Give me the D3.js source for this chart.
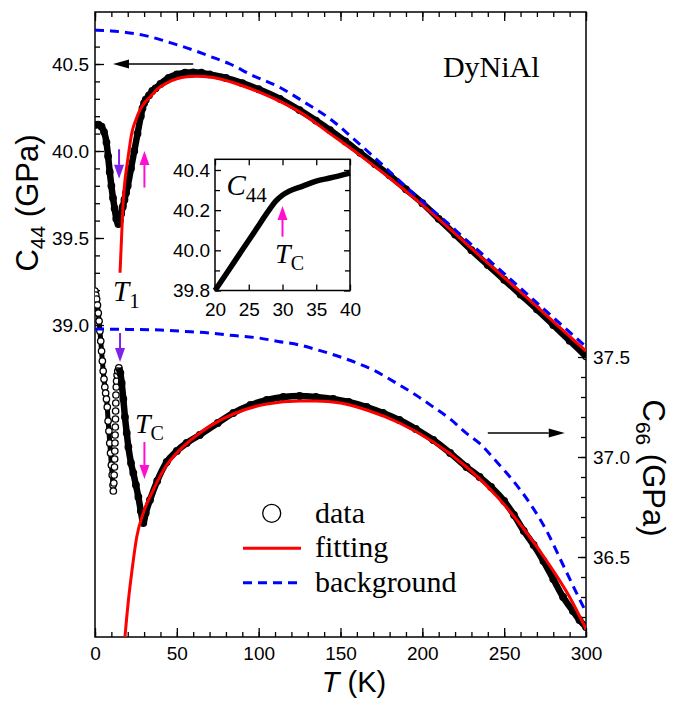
<!DOCTYPE html>
<html>
<head>
<meta charset="utf-8">
<script src="https://cdn.jsdelivr.net/npm/d3@7"></script>
<style>
body { margin: 0; background: #fff; }
svg { display: block; }
</style>
</head>
<body>
<div id="chart"></div>
<script>
/*************** data (T in K, elastic constant in GPa) ***************/
// C44 measured (left axis)
var c44Data = [[0,40.15],[2,40.152],[4,40.14],[5.5,40.11],[7,40.05],[8,39.97],[9,39.88],[10,39.80],[11,39.73],[12,39.67],[13,39.61],[14.3,39.58],[15.2,39.60],[16,39.64],[17,39.68],[18,39.72],[19,39.76],[20,39.80],[22,39.90],[24,40.00],[26,40.10],[28,40.20],[29,40.245],[30,40.275],[31,40.295],[33,40.32],[35,40.345],[37,40.36],[40,40.385],[45,40.42],[50,40.44],[55,40.45],[60,40.452],[65,40.45],[70,40.44],[80,40.42],[90,40.39],[100,40.355],[113,40.30],[125,40.235],[135,40.175],[143.6,40.12],[153,40.055],[162,39.99],[171,39.925],[180,39.86],[190,39.78],[200,39.70],[210,39.61],[220,39.52],[230,39.43],[240,39.345],[250,39.26],[260,39.175],[270,39.09],[280,39.0],[290,38.91],[300,38.82]];
var c44Fit = [[15.3,39.30],[16.3,39.52],[17.3,39.72],[18.3,39.83],[19.4,39.91],[20.9,40.01],[22.4,40.10],[25,40.18],[27.5,40.236],[30.5,40.28],[33.6,40.31],[38,40.355],[43.8,40.39],[50,40.415],[56,40.427],[62,40.43],[70,40.425],[80,40.405],[90,40.375],[100,40.34],[113,40.285],[125,40.225],[143.6,40.10],[162,39.975],[180,39.845],[200,39.69],[220,39.525],[240,39.355],[260,39.19],[280,39.02],[300,38.85]];
var c44Bg = [[0,40.695],[10,40.69],[20,40.68],[33.6,40.657],[45,40.625],[52,40.605],[60,40.58],[70,40.545],[82.5,40.50],[95,40.44],[113,40.365],[128,40.28],[143.6,40.185],[158,40.07],[174,39.935],[187,39.82],[200,39.71],[212.5,39.61],[225,39.505],[237.5,39.40],[250,39.295],[262.5,39.19],[275,39.085],[287.5,38.98],[300,38.875]];

// C66 measured (right axis): cooling branch, jump at T1, main branch
var c66Low = [[0,37.83],[0.5,37.81],[1,37.79],[1.5,37.76],[2,37.72],[2.5,37.68],[3,37.63],[3.5,37.58],[4,37.53],[4.5,37.48],[5,37.43],[5.5,37.39],[6,37.35],[6.5,37.32],[7,37.29],[7.5,37.25],[8,37.18],[8.5,37.13],[9,37.07],[9.5,37.02],[10,36.96],[10.5,36.91],[11,36.86],[11.2,36.83]];
var c66Jump = [[11.5,36.87],[11.7,36.91],[11.9,36.95],[12.0,36.99],[12.1,37.03],[12.2,37.07],[12.3,37.11],[12.4,37.15],[12.5,37.19],[12.6,37.23],[12.7,37.27],[12.8,37.31],[13.0,37.35],[13.2,37.38],[13.5,37.41],[13.9,37.43]];
var c66Data = [[14.6,37.445],[15.5,37.42],[16.3,37.37],[17.3,37.29],[18.3,37.20],[19.4,37.12],[20.4,37.05],[22,36.97],[23.4,36.92],[25,36.86],[26.5,36.80],[28,36.73],[29.5,36.67],[31,36.72],[33.6,36.785],[38,36.88],[43.8,36.975],[50,37.03],[56,37.07],[64,37.11],[75,37.17],[84.5,37.22],[95,37.26],[105,37.285],[115,37.30],[125,37.305],[135,37.30],[145.6,37.29],[155,37.275],[166,37.25],[176,37.22],[186,37.185],[196,37.14],[206.7,37.085],[217,37.02],[227,36.95],[235,36.90],[242,36.85],[250,36.78],[256,36.71],[262,36.63],[268,36.56],[274,36.48],[280,36.39],[286,36.30],[292,36.23],[296,36.185],[300,36.15]];
var c66Fit = [[18.3,36.10],[19.4,36.20],[20.5,36.29],[22.4,36.42],[25.5,36.60],[29.5,36.72],[35.6,36.835],[43.8,36.96],[50,37.02],[64,37.12],[84.5,37.215],[105,37.265],[125,37.28],[135,37.28],[150,37.27],[166,37.235],[186,37.17],[206.7,37.075],[227,36.95],[247,36.79],[262,36.64],[276,36.48],[290,36.30],[300,36.14]];
var c66Bg = [[0,37.64],[20,37.638],[40,37.635],[55,37.628],[70,37.62],[85,37.607],[100,37.595],[112,37.578],[125,37.56],[137,37.533],[150,37.50],[160,37.47],[170,37.435],[186,37.36],[196,37.31],[206.7,37.25],[217,37.19],[227,37.118],[235,37.068],[245,36.98],[255.6,36.88],[266,36.765],[276,36.63],[286,36.46],[296,36.29],[300,36.225]];

// ticks
var xMajor = [0,50,100,150,200,250,300];
var leftMajor = [39.0,39.5,40.0,40.5];
var rightMajor = [36.5,37.0,37.5];
var insetXTicks = [20,25,30,35,40];
var insetYTicks = [39.8,40.0,40.2,40.4];

// annotations: arrows [T, from, to, axis, colour]
var arrows = [
    [14.7, 40.01, 39.84, "L", "#7d22e6"],
    [30.2, 39.79, 40.00, "L", "#ff10d0"],
    [15.3, 37.62, 37.475, "R", "#7d22e6"],
    [30.2, 37.075, 36.89, "R", "#ff10d0"]
];
var sideArrows = [[60, 11, 40.5, "L"], [240, 287, 37.12, "R"]];

var SANS = "'Liberation Sans', Arial, sans-serif";
var SERIF = "'Liberation Serif', 'Times New Roman', serif";

/*************** scales ***************/
var x = d3.scaleLinear().domain([0, 300]).range([95, 586]);
var yL = d3.scaleLinear().domain([39.0, 40.5]).range([325, 64]);
var yR = d3.scaleLinear().domain([36.5, 37.5]).range([557, 357]);
var plotTop = 12, plotBottom = 637;

var xi = d3.scaleLinear().domain([20, 40]).range([215, 350]);
var yi = d3.scaleLinear().domain([39.8, 40.4]).range([290.5, 170]);

var svg = d3.select("#chart").append("svg")
    .attr("width", 692).attr("height", 701);

svg.append("defs").append("clipPath").attr("id", "plotclip")
    .append("rect").attr("x", 95).attr("y", plotTop)
    .attr("width", 491).attr("height", plotBottom - plotTop);

function range(a, b, s) {
    var out = [];
    for (var v = a; v <= b + 1e-9; v += s) out.push(Math.round(v * 100) / 100);
    return out;
}

/*************** axes ***************/
function tickAxis(axis, tr, size, labels) {
    var g = svg.append("g").attr("transform", tr).call(axis.tickSize(size));
    g.select(".domain").remove();
    g.selectAll("line").attr("stroke", "#000").attr("stroke-width", 1.3);
    g.selectAll("text").style("font-family", SANS).style("font-size", "19px").attr("fill", "#000");
    if (!labels) g.selectAll("text").remove();
    return g;
}
// bottom
tickAxis(d3.axisBottom(x).tickValues(xMajor).tickFormat(d3.format("d")).tickPadding(10), "translate(0," + plotBottom + ")", -9, true);
tickAxis(d3.axisBottom(x).tickValues(range(0, 300, 10)), "translate(0," + plotBottom + ")", -5, false);
// top
tickAxis(d3.axisTop(x).tickValues(xMajor), "translate(0," + plotTop + ")", -9, false);
tickAxis(d3.axisTop(x).tickValues(range(0, 300, 10)), "translate(0," + plotTop + ")", -5, false);
// left
tickAxis(d3.axisLeft(yL).tickValues(leftMajor).tickFormat(d3.format(".1f")).tickPadding(6), "translate(95,0)", -9, true);
tickAxis(d3.axisLeft(yL).tickValues(range(39.0, 40.7, 0.1)), "translate(95,0)", -5, false);
// right
tickAxis(d3.axisRight(yR).tickValues(rightMajor).tickFormat(d3.format(".1f")).tickPadding(7), "translate(586,0)", -8, true);
tickAxis(d3.axisRight(yR).tickValues(range(36.2, 37.4, 0.1)), "translate(586,0)", -5, false);

svg.append("rect").attr("x", 95).attr("y", plotTop).attr("width", 491).attr("height", plotBottom - plotTop)
    .attr("fill", "none").attr("stroke", "#000").attr("stroke-width", 1.5);

/*************** curves ***************/
var plot = svg.append("g").attr("clip-path", "url(#plotclip)");

function lineFor(ys) {
    return d3.line().x(function (d) { return x(d[0]); }).y(function (d) { return ys(d[1]); }).curve(d3.curveMonotoneX);
}
function solidData(data, ys) {
    plot.append("path").datum(data).attr("d", lineFor(ys))
        .attr("fill", "none").attr("stroke", "#000").attr("stroke-width", 6.5).attr("stroke-linejoin", "round");
    plot.append("g").selectAll("circle").data(data).enter().append("circle")
        .attr("cx", function (d) { return x(d[0]); }).attr("cy", function (d) { return ys(d[1]); })
        .attr("r", 3.3).attr("fill", "none").attr("stroke", "#000").attr("stroke-width", 1.2);
}
function openData(data, ys) {
    plot.append("g").selectAll("circle").data(data).enter().append("circle")
        .attr("cx", function (d) { return x(d[0]); }).attr("cy", function (d) { return ys(d[1]); })
        .attr("r", 3.2).attr("fill", "#fff").attr("stroke", "#000").attr("stroke-width", 1.3);
}
function fitLine(data, ys) {
    plot.append("path").datum(data).attr("d", lineFor(ys))
        .attr("fill", "none").attr("stroke", "#ff0000").attr("stroke-width", 3);
}
function bgLine(data, ys) {
    plot.append("path").datum(data).attr("d", lineFor(ys))
        .attr("fill", "none").attr("stroke", "#0000ff").attr("stroke-width", 3).attr("stroke-dasharray", "9,6");
}

solidData(c44Data, yL);
plot.append("path").datum(c66Low).attr("d", lineFor(yR))
    .attr("fill", "none").attr("stroke", "#000").attr("stroke-width", 5);
openData(c66Low, yR);
openData(c66Jump, yR);
solidData(c66Data, yR);
fitLine(c44Fit, yL);
fitLine(c66Fit, yR);
bgLine(c44Bg, yL);
bgLine(c66Bg, yR);

/*************** arrows ***************/
function arrow(x1, y1, x2, y2, color, w, len, half) {
    var dx = x2 - x1, dy = y2 - y1, L = Math.sqrt(dx * dx + dy * dy);
    var ux = dx / L, uy = dy / L;
    var bx = x2 - ux * len, by = y2 - uy * len;
    svg.append("line").attr("x1", x1).attr("y1", y1).attr("x2", bx).attr("y2", by)
        .attr("stroke", color).attr("stroke-width", w);
    svg.append("path")
        .attr("d", "M" + x2 + "," + y2 + "L" + (bx - uy * half) + "," + (by + ux * half) + "L" + (bx + uy * half) + "," + (by - ux * half) + "Z")
        .attr("fill", color);
}
arrows.forEach(function (a) {
    var ys = a[3] === "L" ? yL : yR;
    arrow(x(a[0]), ys(a[1]), x(a[0]), ys(a[2]), a[4], 2, 14, 5);
});
sideArrows.forEach(function (a) {
    var ys = a[3] === "L" ? yL : yR;
    arrow(x(a[0]), ys(a[2]), x(a[1]), ys(a[2]), "#000", 1.5, 16, 4.5);
});

/*************** labels ***************/
function subLabel(px, py, main, sub, size, subSize, italic) {
    var t = svg.append("text").attr("x", px).attr("y", py)
        .style("font-family", SERIF).style("font-size", size + "px");
    t.append("tspan").text(main).style("font-style", italic ? "italic" : "normal");
    t.append("tspan").text(sub).style("font-size", subSize + "px").attr("dy", size * 0.25);
    return t;
}
subLabel(x(11), yL(39.138), "T", "1", 29, 21, true);
subLabel(x(24.4), yR(37.12), "T", "C", 28, 20, true);

svg.append("text").attr("x", x(212.6)).attr("y", yL(40.425))
    .style("font-family", SERIF).style("font-size", "30px").text("DyNiAl");

/*************** inset ***************/
var inset = svg.append("g");
inset.append("rect").attr("x", 215).attr("y", 159.3).attr("width", 135).attr("height", 290.5 - 159.3)
    .attr("fill", "#fff").attr("stroke", "#000").attr("stroke-width", 1.5);
function insetAxis(axis, tr, size, labels) {
    var g = inset.append("g").attr("transform", tr).call(axis.tickSize(size));
    g.select(".domain").remove();
    g.selectAll("line").attr("stroke", "#000").attr("stroke-width", 1.3);
    g.selectAll("text").style("font-family", SANS).style("font-size", "19px").attr("fill", "#000");
    if (!labels) g.selectAll("text").remove();
}
insetAxis(d3.axisBottom(xi).tickValues(insetXTicks).tickPadding(12), "translate(0,290.5)", -6, true);
insetAxis(d3.axisTop(xi).tickValues(insetXTicks), "translate(0,159.3)", -6, false);
insetAxis(d3.axisLeft(yi).tickValues(insetYTicks).tickFormat(d3.format(".1f")).tickPadding(5), "translate(215,0)", -6, true);
insetAxis(d3.axisLeft(yi).tickValues([39.9, 40.1, 40.3]), "translate(215,0)", -5, false);
insetAxis(d3.axisRight(yi).tickValues(insetYTicks), "translate(350,0)", -6, false);
insetAxis(d3.axisRight(yi).tickValues([39.9, 40.1, 40.3]), "translate(350,0)", -5, false);

var insetData = c44Data.filter(function (d) { return d[0] >= 20 && d[0] <= 40; });
inset.append("path").datum(insetData)
    .attr("d", d3.line().x(function (d) { return xi(d[0]); }).y(function (d) { return yi(d[1]); }).curve(d3.curveMonotoneX))
    .attr("fill", "none").attr("stroke", "#000").attr("stroke-width", 5.5).attr("stroke-linejoin", "round");
arrow(xi(30), yi(40.068), xi(30), yi(40.221), "#ff10d0", 2, 14, 5);

subLabel(xi(21.7), yi(40.275), "C", "44", 29, 21, true);
subLabel(xi(28.9), yi(39.937), "T", "C", 28, 20, true);

/*************** axis titles ***************/
var xt = svg.append("text").attr("x", 354).attr("y", 692).attr("text-anchor", "middle")
    .style("font-family", SANS).style("font-size", "29px");
xt.append("tspan").text("T").style("font-style", "italic");
xt.append("tspan").text(" (K)");

var lt = svg.append("text").attr("transform", "translate(38,203) rotate(-90)").attr("text-anchor", "middle")
    .style("font-family", SANS).style("font-size", "31px");
lt.append("tspan").text("C");
lt.append("tspan").text("44").style("font-size", "21px").attr("dy", 7);
lt.append("tspan").text(" (GPa)").attr("dy", -7);

var rt = svg.append("text").attr("transform", "translate(643,468) rotate(90)").attr("text-anchor", "middle")
    .style("font-family", SANS).style("font-size", "31px");
rt.append("tspan").text("C");
rt.append("tspan").text("66").style("font-size", "21px").attr("dy", 7);
rt.append("tspan").text(" (GPa)").attr("dy", -7);

/*************** legend ***************/
var legend = svg.append("g");
function legendText(py, s) {
    legend.append("text").attr("x", 315).attr("y", py).text(s)
        .style("font-family", SERIF).style("font-size", "30px").attr("fill", "#000");
}
legend.append("circle").attr("cx", 271.7).attr("cy", 513.3).attr("r", 9)
    .attr("fill", "none").attr("stroke", "#000").attr("stroke-width", 1.3);
legendText(523, "data");
legend.append("line").attr("x1", 243).attr("x2", 301).attr("y1", 548.3).attr("y2", 548.3)
    .attr("stroke", "#ff0000").attr("stroke-width", 3);
legendText(557, "fitting");
legend.append("line").attr("x1", 243).attr("x2", 301).attr("y1", 582.7).attr("y2", 582.7)
    .attr("stroke", "#0000ff").attr("stroke-width", 3).attr("stroke-dasharray", "9,6");
legendText(592, "background");
</script>
</body>
</html>
